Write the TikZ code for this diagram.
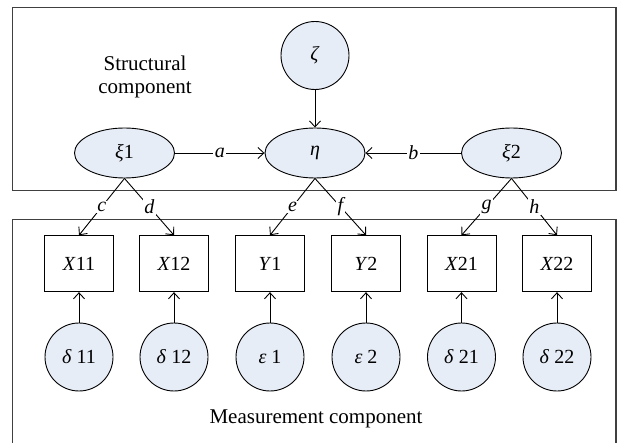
\documentclass[tikz,border=0pt]{standalone}
\usepackage{fontspec}
\setmainfont{Liberation Serif}
\usetikzlibrary{shapes.geometric,arrows.meta}
\definecolor{nodefill}{RGB}{231,237,247}
\definecolor{framecol}{RGB}{64,64,64}
\newcommand{\iv}[1]{\textit{#1}}
\begin{document}
\begin{tikzpicture}[x=1pt,y=-1pt,
  latent/.style={ellipse,draw,fill=nodefill,line width=0.9pt,minimum width=100pt,minimum height=50pt,inner sep=0pt},
  errc/.style={circle,draw,fill=nodefill,line width=0.9pt,minimum size=68pt,inner sep=0pt},
  obs/.style={rectangle,draw,line width=0.9pt,minimum width=69pt,minimum height=56pt,inner sep=0pt},
  lbl/.style={fill=white,inner sep=1.5pt,font=\fontsize{20}{24}\selectfont\itshape},
  arr/.style={line width=0.9pt,-{Straight Barb[length=6pt,width=11pt]}},
  frame/.style={draw=framecol,line width=1.5pt},
  font=\fontsize{20}{24}\selectfont]
\useasboundingbox (0,0) rectangle (618,443);
\draw[frame] (12.5,7.5) rectangle (616,190.7);
\draw[frame] (12.5,450) -- (12.5,219.3) -- (616,219.3) -- (616,450);
% structural
\node[errc] (zeta) at (315,55.5) {\iv{ζ}};
\node[latent] (eta) at (315,153) {\iv{η}};
\node[latent] (xi1) at (124.5,153) {\iv{ξ}1};
\node[latent] (xi2) at (511.5,153) {\iv{ξ}2};
\node[align=center,font=\fontsize{21}{23}\selectfont] (st) at (145,77) {Structural\\component};
% measurement
\node[obs] (x11) at (79,263.7) {\iv{X}11};
\node[obs] (x12) at (174,263.7) {\iv{X}12};
\node[obs] (y1) at (270,263.7) {\iv{Y}1};
\node[obs] (y2) at (366,263.7) {\iv{Y}2};
\node[obs] (x21) at (461.5,263.7) {\iv{X}21};
\node[obs] (x22) at (557,263.7) {\iv{X}22};
\node[errc] (d11) at (79,357) {\iv{δ} 11};
\node[errc] (d12) at (174,357) {\iv{δ} 12};
\node[errc] (e1) at (270,357) {\iv{ε} 1};
\node[errc] (e2) at (366,357) {\iv{ε} 2};
\node[errc] (d21) at (461.5,357) {\iv{δ} 21};
\node[errc] (d22) at (557,357) {\iv{δ} 22};
\node[font=\fontsize{21}{23}\selectfont] (mc) at (316,419) {Measurement component};
% connectors
\draw[arr] (zeta.south) -- (eta.north);
\draw[arr] (xi1.east) -- node[lbl]{a} (eta.west);
\draw[arr] (xi2.west) -- node[lbl]{b} (eta.east);
\draw[arr] (xi1.south) -- node[lbl]{c} (x11.north);
\draw[arr] (xi1.south) -- node[lbl]{d} (x12.north);
\draw[arr] (eta.south) -- node[lbl]{e} (y1.north);
\draw[arr] (eta.south) -- node[lbl]{f} (y2.north);
\draw[arr] (xi2.south) -- node[lbl]{g} (x21.north);
\draw[arr] (xi2.south) -- node[lbl]{h} (x22.north);
\draw[arr] (d11.north) -- (x11.south);
\draw[arr] (d12.north) -- (x12.south);
\draw[arr] (e1.north) -- (y1.south);
\draw[arr] (e2.north) -- (y2.south);
\draw[arr] (d21.north) -- (x21.south);
\draw[arr] (d22.north) -- (x22.south);
\end{tikzpicture}
\end{document}
